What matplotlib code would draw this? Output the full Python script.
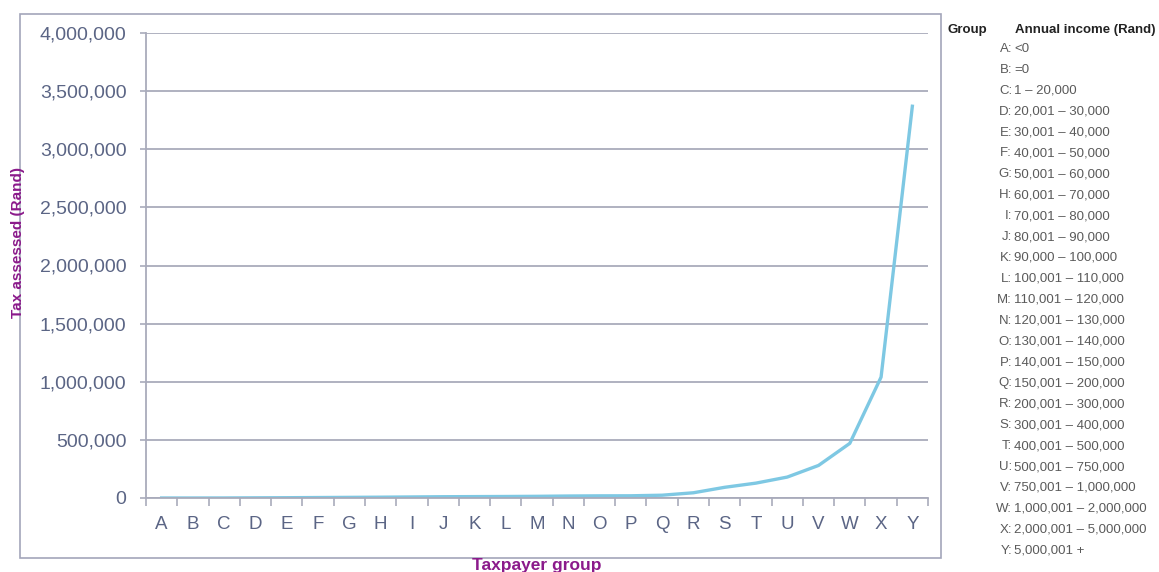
# Tax assessed per taxpayer group (line chart with income-band key on the right)
import numpy as np
import matplotlib
matplotlib.use('Agg')
import matplotlib.pyplot as plt
from matplotlib.patches import Rectangle
from matplotlib.ticker import FuncFormatter, FixedLocator

groups = list('ABCDEFGHIJKLMNOPQRSTUVWXY')
tax_assessed = [0, 0, 300, 1500, 2500, 4000, 5500, 7000, 9000, 11000, 12000, 13000,
                14500, 17000, 18500, 19000, 24000, 45000, 92000, 128000, 180000,
                280000, 470000, 1040000, 3370000]
income_bands = ['<0', '=0', '1 \u2013 20,000', '20,001 \u2013 30,000', '30,001 \u2013 40,000',
                '40,001 \u2013 50,000', '50,001 \u2013 60,000', '60,001 \u2013 70,000',
                '70,001 \u2013 80,000', '80,001 \u2013 90,000', '90,000 \u2013 100,000',
                '100,001 \u2013 110,000', '110,001 \u2013 120,000', '120,001 \u2013 130,000',
                '130,001 \u2013 140,000', '140,001 \u2013 150,000', '150,001 \u2013 200,000',
                '200,001 \u2013 300,000', '300,001 \u2013 400,000', '400,001 \u2013 500,000',
                '500,001 \u2013 750,000', '750,001 \u2013 1,000,000', '1,000,001 \u2013 2,000,000',
                '2,000,001 \u2013 5,000,000', '5,000,001 +']
y_ticks = [0, 500000, 1000000, 1500000, 2000000, 2500000, 3000000, 3500000, 4000000]

plt.rcParams['font.family'] = ['Liberation Sans', 'DejaVu Sans']

W, H = 1159, 572
fig = plt.figure(figsize=(W / 100, H / 100), dpi=100)

def px(x0, y0, x1, y1):
    return [x0 / W, 1 - y1 / H, (x1 - x0) / W, (y1 - y0) / H]

# outer chart border
fig.patches.append(Rectangle((20 / W, 1 - 558 / H), 921 / W, 544 / H, transform=fig.transFigure,
                             fill=False, edgecolor='#a3a5ba', lw=1.2))

ax = fig.add_axes(px(146, 33, 928, 498))
x = np.arange(len(groups))
ax.plot(x, tax_assessed, color='#7ec8e3', lw=2.4, solid_joinstyle='round')

ax.set_xlim(-0.5, len(groups) - 0.5)
ax.set_ylim(0, 4000000)
ax.set_yticks(y_ticks)
ax.yaxis.set_major_formatter(FuncFormatter(lambda v, p: format(int(v), ',')))
ax.grid(axis='y', color='#a9abbb', lw=1.3)
ax.set_axisbelow(True)

tick_col = '#5b6585'
ax.set_xticks(x)
ax.set_xticklabels(groups)
ax.xaxis.set_minor_locator(FixedLocator(np.arange(-0.5, len(groups), 1.0)))
ax.tick_params(axis='x', which='major', length=0, pad=13, labelsize=13.5, labelcolor=tick_col)
ax.tick_params(axis='x', which='minor', length=6, width=1.2, color='#a9abbb', direction='out')
ax.tick_params(axis='y', length=4, width=1.2, color='#a9abbb', pad=10, labelsize=14,
               labelcolor=tick_col)
for s in ['top', 'right']:
    ax.spines[s].set_visible(False)
for s in ['left', 'bottom']:
    ax.spines[s].set_color('#a9abbb')
    ax.spines[s].set_linewidth(1.3)

purple = '#8b1a8b'
fig.text(18 / W, 1 - 243 / H, 'Tax assessed (Rand)', rotation=90, ha='center', va='center',
         color=purple, fontsize=11, fontweight='bold')
fig.text(537 / W, 1 - 570 / H, 'Taxpayer group', ha='center', va='baseline',
         color=purple, fontsize=12.5, fontweight='bold')

# income band key
fig.text(948 / W, 1 - 30 / H, 'Group', ha='left', va='center', fontsize=9.5,
         fontweight='bold', color='#222222')
fig.text(1015 / W, 1 - 30 / H, 'Annual income (Rand)', ha='left', va='center', fontsize=9.5,
         fontweight='bold', color='#222222')
for i, (g, band) in enumerate(zip(groups, income_bands)):
    yy = 1 - (49 + i * 20.9) / H
    fig.text(1012 / W, yy, g + ':', ha='right', va='center', fontsize=9.5, color='#5a5a5a')
    fig.text(1014 / W, yy, band, ha='left', va='center', fontsize=9.5, color='#5a5a5a')

fig.savefig('out.png', dpi=100)
